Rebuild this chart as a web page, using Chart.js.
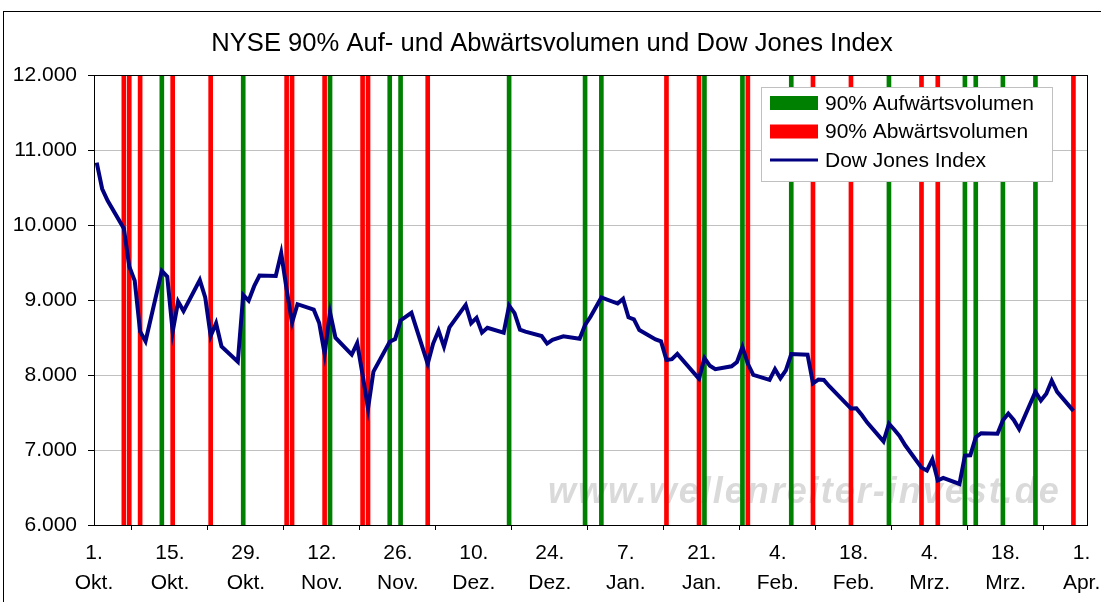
<!DOCTYPE html>
<html>
<head>
<meta charset="utf-8">
<title>NYSE 90% Auf- und Abwärtsvolumen und Dow Jones Index</title>
<script src="https://cdn.jsdelivr.net/npm/chart.js@4.4.1/dist/chart.umd.min.js"></script>
<style>
  html, body { margin: 0; padding: 0; background: #fff; }
</style>
</head>
<body>
<canvas id="mychart" width="1101" height="602"></canvas>
<script>
const chartTitle = 'NYSE 90% Auf- und Abwärtsvolumen und Dow Jones Index';
const watermark = 'www.wellenreiter-invest.de';

const tickDates = ['2008-10-01', '2008-10-15', '2008-10-29', '2008-11-12', '2008-11-26', '2008-12-10', '2008-12-24',
    '2009-01-07', '2009-01-21', '2009-02-04', '2009-02-18', '2009-03-04', '2009-03-18', '2009-04-01'];
const tickLabels = [['1.', 'Okt.'], ['15.', 'Okt.'], ['29.', 'Okt.'], ['12.', 'Nov.'], ['26.', 'Nov.'], ['10.', 'Dez.'], ['24.', 'Dez.'],
    ['7.', 'Jan.'], ['21.', 'Jan.'], ['4.', 'Feb.'], ['18.', 'Feb.'], ['4.', 'Mrz.'], ['18.', 'Mrz.'], ['1.', 'Apr.']];

// Dow Jones closes
const dowDates = [
    '2008-10-01', '2008-10-02', '2008-10-03', '2008-10-06', '2008-10-07', '2008-10-08', '2008-10-09', '2008-10-10',
    '2008-10-13', '2008-10-14', '2008-10-15', '2008-10-16', '2008-10-17', '2008-10-20', '2008-10-21', '2008-10-22',
    '2008-10-23', '2008-10-24', '2008-10-27', '2008-10-28', '2008-10-29', '2008-10-30', '2008-10-31',
    '2008-11-03', '2008-11-04', '2008-11-05', '2008-11-06', '2008-11-07', '2008-11-10', '2008-11-11', '2008-11-12',
    '2008-11-13', '2008-11-14', '2008-11-17', '2008-11-18', '2008-11-19', '2008-11-20', '2008-11-21', '2008-11-24',
    '2008-11-25', '2008-11-26', '2008-11-28',
    '2008-12-01', '2008-12-02', '2008-12-03', '2008-12-04', '2008-12-05', '2008-12-08', '2008-12-09', '2008-12-10',
    '2008-12-11', '2008-12-12', '2008-12-15', '2008-12-16', '2008-12-17', '2008-12-18', '2008-12-19', '2008-12-22',
    '2008-12-23', '2008-12-24', '2008-12-26', '2008-12-29', '2008-12-30', '2008-12-31',
    '2009-01-02', '2009-01-05', '2009-01-06', '2009-01-07', '2009-01-08', '2009-01-09', '2009-01-12', '2009-01-13',
    '2009-01-14', '2009-01-15', '2009-01-16', '2009-01-20', '2009-01-21', '2009-01-22', '2009-01-23', '2009-01-26',
    '2009-01-27', '2009-01-28', '2009-01-29', '2009-01-30',
    '2009-02-02', '2009-02-03', '2009-02-04', '2009-02-05', '2009-02-06', '2009-02-09', '2009-02-10', '2009-02-11',
    '2009-02-12', '2009-02-13', '2009-02-17', '2009-02-18', '2009-02-19', '2009-02-20', '2009-02-23', '2009-02-24',
    '2009-02-25', '2009-02-26', '2009-02-27',
    '2009-03-02', '2009-03-03', '2009-03-04', '2009-03-05', '2009-03-06', '2009-03-09', '2009-03-10', '2009-03-11',
    '2009-03-12', '2009-03-13', '2009-03-16', '2009-03-17', '2009-03-18', '2009-03-19', '2009-03-20', '2009-03-23',
    '2009-03-24', '2009-03-25', '2009-03-26', '2009-03-27', '2009-03-30'];
const dowValues = [
    10831, 10483, 10325, 9955, 9447, 9258, 8579, 8451,
    9388, 9311, 8578, 8979, 8852, 9266, 9034, 8519,
    8691, 8379, 8176, 9065, 8991, 9181, 9325,
    9319, 9625, 9139, 8696, 8944, 8871, 8694, 8283,
    8836, 8497, 8273, 8425, 8001, 7552, 8046, 8443,
    8479, 8727, 8829,
    8149, 8419, 8591, 8376, 8635, 8934, 8691, 8761,
    8565, 8629, 8564, 8924, 8824, 8604, 8579, 8519,
    8419, 8468, 8515, 8483, 8668, 8776,
    9034, 8953, 9015, 8769, 8742, 8599, 8474, 8448,
    8200, 8212, 8281, 7949, 8228, 8123, 8077, 8116,
    8174, 8375, 8149, 8001,
    7936, 8078, 7957, 8063, 8280, 8270, 7888, 7939,
    7933, 7850, 7553, 7555, 7466, 7366, 7115, 7351,
    7270, 7182, 7063,
    6763, 6726, 6876, 6594, 6627, 6547, 6926, 6930,
    7170, 7224, 7217, 7395, 7486, 7401, 7279, 7776,
    7660, 7750, 7925, 7776, 7522];

// days with 90% up / down volume
const upDates = ['2008-10-13', '2008-10-28', '2008-11-13', '2008-11-24', '2008-11-26', '2008-12-16', '2008-12-30',
    '2009-01-02', '2009-01-21', '2009-01-28', '2009-02-06', '2009-02-24', '2009-03-10', '2009-03-12', '2009-03-17', '2009-03-23'];
const downDates = ['2008-10-06', '2008-10-07', '2008-10-09', '2008-10-15', '2008-10-22', '2008-11-05', '2008-11-06',
    '2008-11-12', '2008-11-19', '2008-11-20', '2008-12-01', '2009-01-14', '2009-01-20', '2009-01-29', '2009-02-10',
    '2009-02-17', '2009-03-02', '2009-03-05', '2009-03-30'];

const yMin = 6000, yMax = 12000, yStep = 1000;
const xDays = 183; // 1. Okt bis Ende 1. Apr

const dayOf = s => {
    const p = s.split('-').map(Number);
    return (Date.UTC(p[0], p[1] - 1, p[2]) - Date.UTC(2008, 9, 1)) / 86400000;
};
const fmt = v => String(v).replace(/\B(?=(\d{3})+(?!\d))/g, '.');

const FONT = "'Liberation Sans', Arial, sans-serif";
Chart.defaults.font.family = FONT;
Chart.defaults.color = '#000';

const frame = {
    id: 'frame',
    beforeDatasetsDraw(chart) {
        const c = chart.ctx;
        c.save();
        c.font = 'italic bold 36px ' + FONT;
        c.fillStyle = '#dadada';
        if ('letterSpacing' in c) c.letterSpacing = '2px';
        c.textBaseline = 'alphabetic';
        c.fillText(watermark, 548, 503);
        c.restore();
    },
    afterDatasetsDraw(chart) {
        const c = chart.ctx;
        const a = chart.chartArea;
        c.save();
        c.strokeStyle = '#000';
        c.lineWidth = 1;
        c.strokeRect(Math.round(a.left) + 0.5, Math.round(a.top) + 0.5, Math.round(a.right - a.left), Math.round(a.bottom - a.top));
        // legend
        const lx = 761, ly = 87, lw = 291, lh = 94;
        c.fillStyle = '#fff';
        c.fillRect(lx, ly, lw, lh);
        c.strokeStyle = '#c0c0c0';
        c.strokeRect(lx + 0.5, ly + 0.5, lw, lh);
        c.font = '21px ' + FONT;
        c.textBaseline = 'middle';
        chart.data.datasets.forEach((ds, i) => {
            const y = 103 + i * 28.5;
            if (ds.type === 'bar') {
                c.fillStyle = ds.backgroundColor;
                c.fillRect(770, y - 7, 48, 14);
            } else {
                c.strokeStyle = ds.borderColor;
                c.lineWidth = 3;
                c.beginPath();
                c.moveTo(770, y);
                c.lineTo(818, y);
                c.stroke();
            }
            c.fillStyle = '#000';
            c.fillText(ds.label, 825, y + 1);
        });
        c.restore();
    },
    afterDraw(chart) {
        const c = chart.ctx;
        c.save();
        c.strokeStyle = '#000';
        c.lineWidth = 1;
        c.strokeRect(3.5, 11.5, 1200, 700);
        c.font = '25.6px ' + FONT;
        c.fillStyle = '#000';
        c.textAlign = 'center';
        c.textBaseline = 'middle';
        c.fillText(chartTitle, 552, 44);
        c.restore();
    }
};

const barData = dates => dates.map(d => ({ x: dayOf(d) + 0.5, y: [yMin, yMax] }));

const ctx = document.getElementById('mychart').getContext('2d');
let myChart = new Chart(ctx, {
    type: 'line',
    data: {
        datasets: [
            {
                type: 'bar',
                label: '90% Aufwärtsvolumen',
                data: barData(upDates),
                backgroundColor: '#008000',
                barThickness: 4,
                grouped: false,
                order: 3
            },
            {
                type: 'bar',
                label: '90% Abwärtsvolumen',
                data: barData(downDates),
                backgroundColor: '#ff0000',
                barThickness: 4,
                grouped: false,
                order: 2
            },
            {
                type: 'line',
                label: 'Dow Jones Index',
                data: dowDates.map((d, i) => ({ x: dayOf(d) + 0.5, y: dowValues[i] })),
                borderColor: '#000080',
                borderWidth: 4,
                pointRadius: 0,
                tension: 0,
                order: 1
            }
        ]
    },
    options: {
        responsive: false,
        devicePixelRatio: 1,
        animation: false,
        layout: { padding: { top: 75, right: 14, left: 0, bottom: 0 } },
        plugins: { legend: { display: false }, tooltip: { enabled: false }, title: { display: false } },
        scales: {
            x: {
                type: 'linear',
                min: 0,
                max: xDays,
                offset: false,
                afterBuildTicks: scale => { scale.ticks = tickDates.map(d => ({ value: dayOf(d) })); },
                afterFit: scale => { scale.height = 77; scale.paddingLeft = 0; scale.paddingRight = 0; },
                grid: { display: true, drawOnChartArea: false, drawTicks: true, tickLength: 5, tickColor: '#000' },
                border: { display: true, color: '#000' },
                ticks: {
                    font: { size: 21, lineHeight: 30 / 21 },
                    padding: 8,
                    maxRotation: 0,
                    autoSkip: false,
                    callback: (v, i) => tickLabels[i]
                }
            },
            y: {
                min: yMin,
                max: yMax,
                afterFit: scale => { scale.width = 94; },
                grid: { color: '#c0c0c0', tickColor: '#000', tickLength: 6 },
                border: { display: true, color: '#000' },
                ticks: {
                    stepSize: yStep,
                    font: { size: 21 },
                    padding: 11,
                    callback: v => fmt(v)
                }
            }
        }
    },
    plugins: [frame]
});
</script>
</body>
</html>
